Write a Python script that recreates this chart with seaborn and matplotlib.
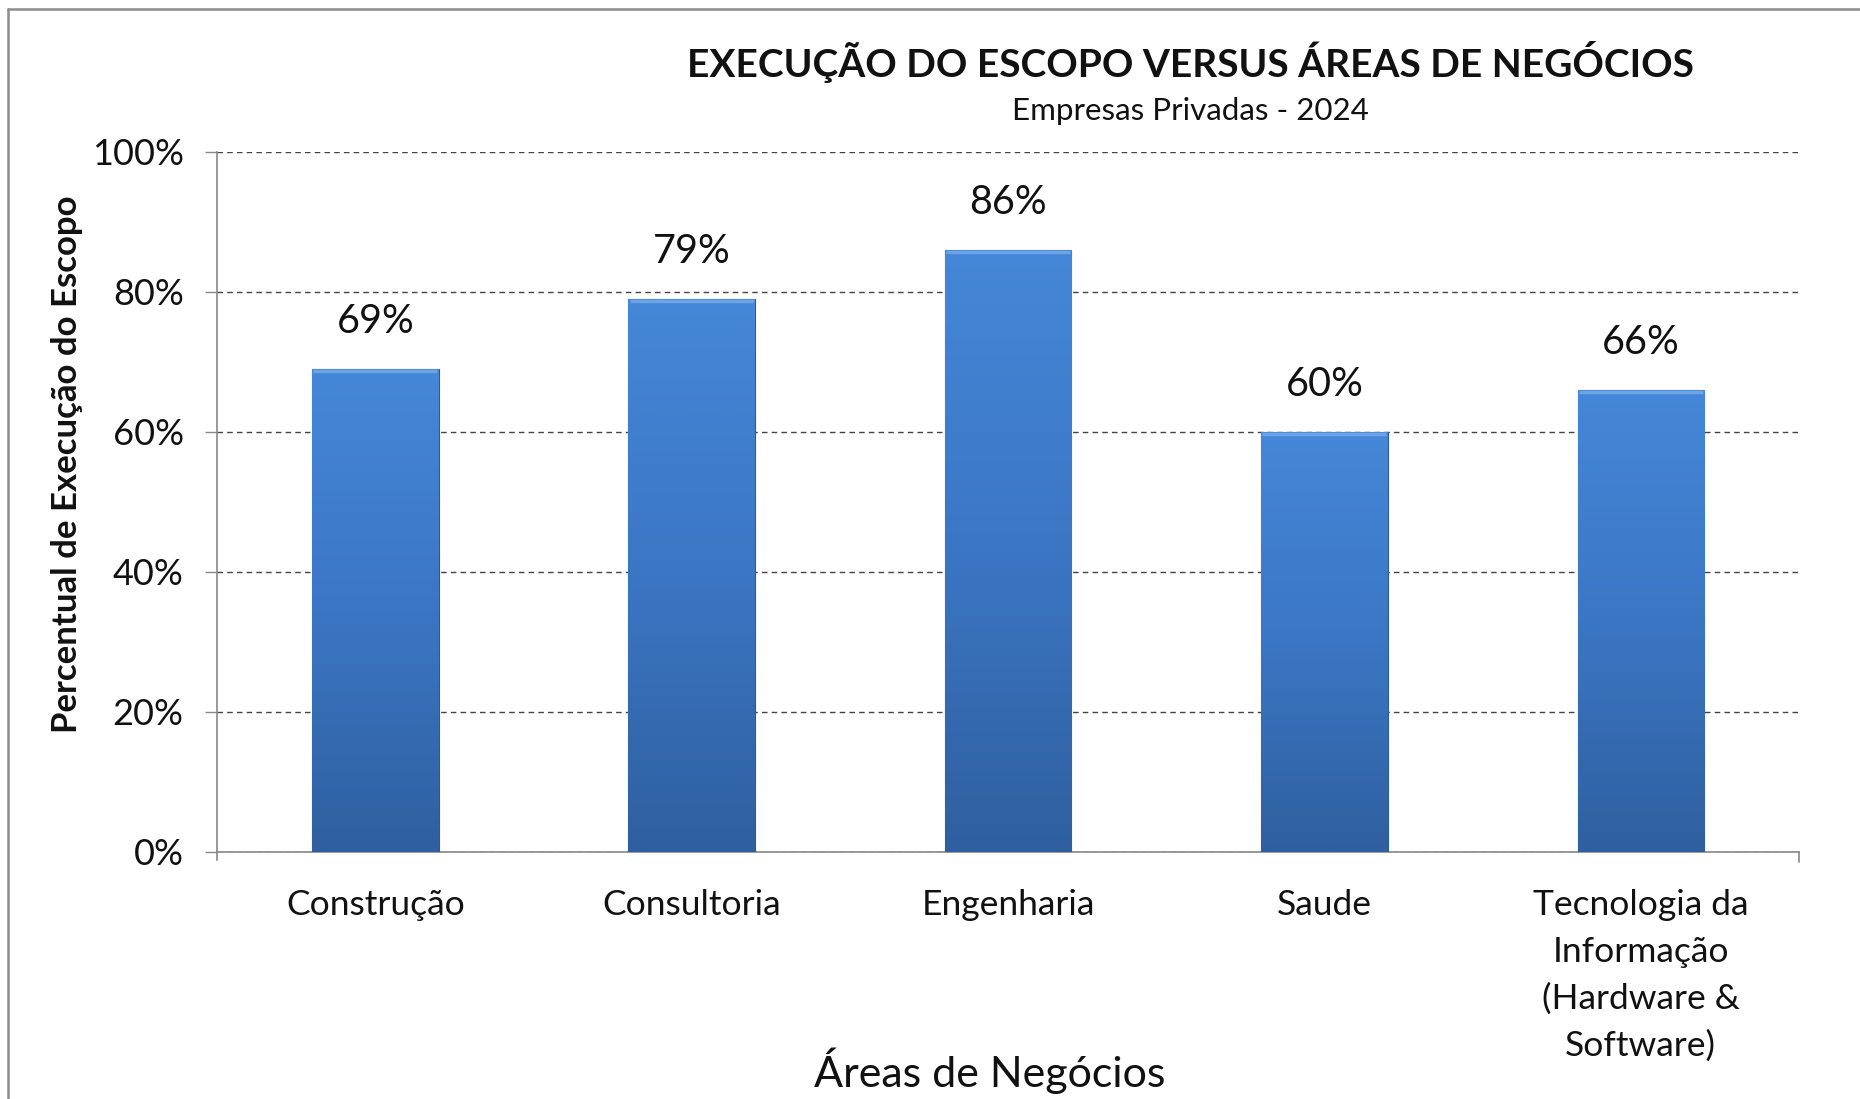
import numpy as np
import pandas as pd
import matplotlib
matplotlib.use("Agg")
import matplotlib.pyplot as plt
from matplotlib.colors import LinearSegmentedColormap
from matplotlib.lines import Line2D
import seaborn as sns

# ==================================================
# Dados
# ==================================================
areas = ["Construção", "Consultoria", "Engenharia", "Saude",
         "Tecnologia da\nInformação\n(Hardware &\nSoftware)"]
execucao = [69, 79, 86, 60, 66]
y_ticks = [0, 20, 40, 60, 80, 100]
y_tick_labels = ["0%", "20%", "40%", "60%", "80%", "100%"]

titulo = "EXECUÇÃO DO ESCOPO VERSUS ÁREAS DE NEGÓCIOS"
subtitulo = "Empresas Privadas - 2024"
x_titulo = "Áreas de Negócios"
y_titulo = "Percentual de Execução do Escopo"

sns.set_theme(style="white")
plt.rcParams["font.family"] = ["Lato", "DejaVu Sans"]

df = pd.DataFrame({"Area": areas, "Execucao": execucao})

# ==================================================
# Plot
# ==================================================
fig = plt.figure(figsize=(18.6, 10.99), dpi=100)
ax = fig.add_axes([0.1167, 0.2248, 0.8505, 0.6369])

sns.barplot(data=df, x="Area", y="Execucao", color="#3a72c0", width=0.4,
            saturation=1, ax=ax, zorder=3)

# Farbverlauf in den Balken
cmap = LinearSegmentedColormap.from_list("grad", ["#2f5f9f", "#3b76c4", "#4587d8"])
grad = np.linspace(0, 1, 256).reshape(-1, 1)
for bar in ax.patches:
    x0, y0 = bar.get_x(), bar.get_y()
    w, h = bar.get_width(), bar.get_height()
    bar.set_edgecolor("#2d5a94")
    bar.set_linewidth(0.8)
    im = ax.imshow(grad, cmap=cmap, origin="lower", aspect="auto",
                   extent=[x0, x0 + w, y0, y0 + h], zorder=4)
    im.set_clip_path(bar)
    ax.plot([x0 + 0.004, x0 + w - 0.004], [y0 + h - 0.35, y0 + h - 0.35],
            color="#6ea3e6", lw=2.5, zorder=5, solid_capstyle="butt")

for i, v in enumerate(execucao):
    ax.annotate(f"{v}%", (i, v), xytext=(0, 34), textcoords="offset points",
                ha="center", va="center", fontsize=28.5, color="#111111")

ax.set_xlim(-0.5, len(areas) - 0.5)
ax.set_ylim(0, 100)
ax.set_yticks(y_ticks)
ax.set_yticklabels(y_tick_labels, fontsize=26, color="#111111")
ax.yaxis.grid(True, linestyle=(0, (4, 3)), color="#444444", linewidth=1.0, zorder=0)
ax.xaxis.grid(False)
ax.tick_params(axis="y", left=True, length=9, width=1, color="#888888", pad=15)
ax.tick_params(axis="x", bottom=False, pad=21)
for lbl in ax.get_xticklabels():
    lbl.set_fontsize(25.5)
    lbl.set_color("#111111")
    lbl.set_linespacing(1.56)

for side in ["top", "right"]:
    ax.spines[side].set_visible(False)
for side in ["left", "bottom"]:
    ax.spines[side].set_color("#888888")
    ax.spines[side].set_linewidth(1.2)
ax.spines["left"].set_bounds(-1.15, 100)  # leicht unter die x-Achse
ax.set_xlabel("")
ax.set_ylabel("")

# Endmarke der x-Achse
ax.plot([len(areas) - 0.5, len(areas) - 0.5], [0, -1.4], color="#888888", lw=1.2,
        clip_on=False, zorder=5)

fig.text(0.64, 0.9436, titulo, ha="center", va="center", fontsize=28,
         fontweight="bold", color="#111111")
fig.text(0.64, 0.899, subtitulo, ha="center", va="center", fontsize=22.5, color="#111111")
fig.text(0.532, 0.0105, x_titulo, ha="center", va="baseline", fontsize=31, color="#111111")
fig.text(0.036, 0.578, y_titulo, ha="center", va="center", rotation=90, fontsize=25,
         fontweight="bold", color="#111111")

# Rahmen oben und links
fig.add_artist(Line2D([0.0043, 1.0], [0.9918, 0.9918], color="#8c8c8c", lw=1.8,
                      transform=fig.transFigure))
fig.add_artist(Line2D([0.0043, 0.0043], [0.0, 0.9918], color="#8c8c8c", lw=1.8,
                      transform=fig.transFigure))

fig.savefig("out.png", dpi=100, facecolor="white")
